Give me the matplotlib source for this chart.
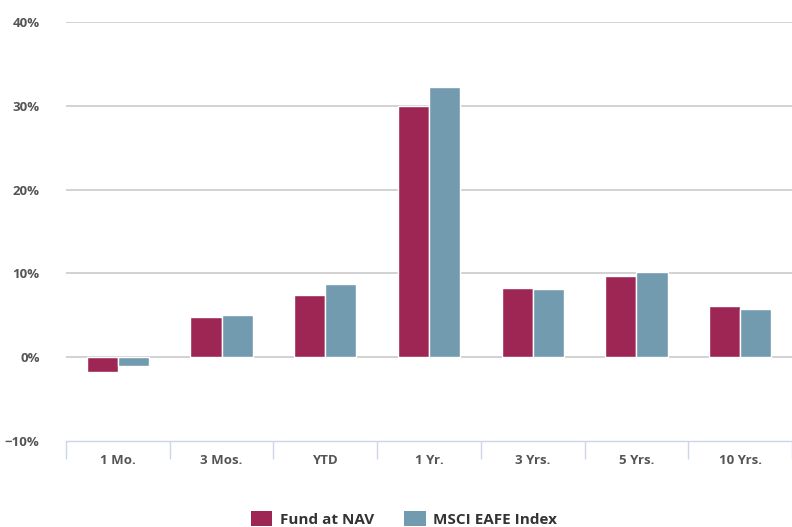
import matplotlib
matplotlib.use("Agg")
import matplotlib.pyplot as plt
import numpy as np
from matplotlib.patches import Patch

categories = ["1 Mo.", "3 Mos.", "YTD", "1 Yr.", "3 Yrs.", "5 Yrs.", "10 Yrs."]
fund_nav = [-1.8, 4.8, 7.4, 30.0, 8.2, 9.7, 6.1]
msci_eafe = [-1.1, 5.0, 8.7, 32.2, 8.1, 10.2, 5.7]
series_names = ["Fund at NAV", "MSCI EAFE Index"]
yticks = [-10, 0, 10, 20, 30, 40]
ytick_labels = ["\u221210%", "0%", "10%", "20%", "30%", "40%"]

fund_color = "#9E2654"
index_color = "#739BB0"

plt.rcParams['font.family'] = ['Open Sans', 'DejaVu Sans']

fig = plt.figure(figsize=(7.92, 5.27), dpi=100)
ax = fig.add_axes([66/792, 1-441/527, 1-66/792, (441-22)/527])

x = np.arange(len(categories))
w = 0.3
ax.bar(x - w/2, fund_nav, width=w, color=fund_color, edgecolor="white", linewidth=1, zorder=3)
ax.bar(x + w/2, msci_eafe, width=w, color=index_color, edgecolor="white", linewidth=1, zorder=3)

ax.set_xlim(-0.5, len(categories) - 0.5)
ax.set_ylim(-10, 40)
ax.set_yticks(yticks)
ax.set_yticklabels(ytick_labels)
for y in yticks[1:]:
    ax.axhline(y, color="#cfcfcf", linewidth=1.3, zorder=1)

ax.set_xticks(x)
ax.set_xticklabels(categories)
ax.tick_params(axis='x', length=0, pad=9, labelsize=9.5, labelcolor="#555555")
ax.tick_params(axis='y', length=0, pad=19, labelsize=9.5, labelcolor="#555555")
for lbl in ax.get_xticklabels() + ax.get_yticklabels():
    lbl.set_fontweight("bold")

ax.set_xticks(np.arange(len(categories) + 1) - 0.5, minor=True)
ax.tick_params(axis='x', which='minor', length=13, color="#ccd6eb", width=1)

for s in ["top", "right", "left"]:
    ax.spines[s].set_visible(False)
ax.spines["bottom"].set_color("#ccd6eb")
ax.spines["bottom"].set_linewidth(1)

handles = [Patch(facecolor=fund_color, edgecolor="none"),
           Patch(facecolor=index_color, edgecolor="none")]
leg = fig.legend(handles, series_names, loc="center", bbox_to_anchor=(0.51, 1-519/527),
                 ncol=2, frameon=False, handlelength=1.4, handleheight=1.1,
                 handletextpad=0.5, columnspacing=2.0,
                 prop={'size': 11, 'weight': 'bold'})
for t in leg.get_texts():
    t.set_color("#333333")

fig.savefig("out.png", dpi=100, facecolor="white")
